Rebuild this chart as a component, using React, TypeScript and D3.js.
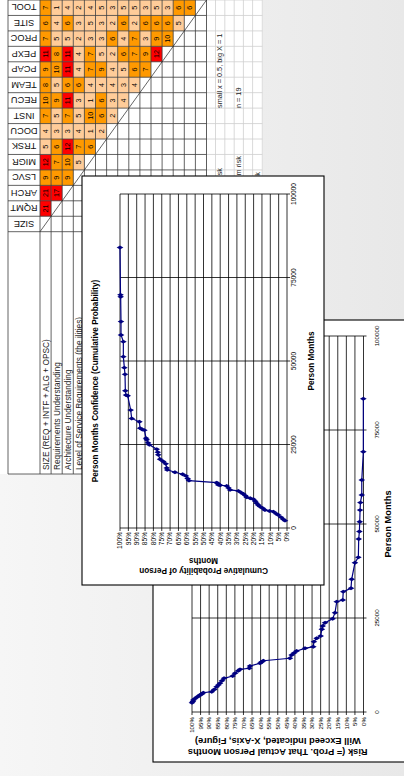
import React from "react";
import * as d3 from "d3";

const W = 404;
const H = 776;
const FONT = "'Liberation Sans', Arial, sans-serif";

// ---------- spreadsheet data ----------
const VARS = ["SIZE", "RQMT", "ARCH", "LSVC", "MIGR", "TRSK", "DOCU", "INST", "RECU", "TEAM", "PCAP", "PEXP", "PROC", "SITE", "TOOL"];
// values per column (column j holds rows 0..j-1)
const MATRIX: number[][] = [
  [],
  [21],
  [21, 17],
  [9, 9, 9],
  [12, 7, 10, 5],
  [5, 6, 12, 7, 6],
  [4, 3, 3, 4, 1, 2],
  [7, 5, 7, 5, 10, 6, 2],
  [10, 9, 11, 3, 1, 6, 3, 4],
  [8, 5, 6, 6, 4, 4, 4, 3, 4],
  [9, 10, 11, 4, 7, 9, 4, 5, 6, 7],
  [11, 8, 11, 4, 7, 5, 2, 6, 7, 9, 12],
  [7, 5, 5, 2, 3, 3, 6, 4, 7, 3, 9, 10],
  [6, 4, 6, 3, 5, 3, 2, 6, 2, 6, 6, 6, 5],
  [7, 1, 4, 2, 4, 5, 3, 5, 5, 3, 5, 3, 6, 6],
];
const ROW_LABELS = [
  "SIZE (REQ + INTF + ALG + OPSC)",
  "Requirements Understanding",
  "Architecture Understanding",
  "Level of Service Requirements (the ilities)",
];
const NOTES = ["small x = 0.5, big X = 1", "n = 19"];
const RISK_NOTES = ["Low risk", "Medium risk", "High risk"];

// ---------- chart data ----------
const PCT_TICKS = [0, 5, 10, 15, 20, 25, 30, 35, 40, 45, 50, 55, 60, 65, 70, 75, 80, 85, 90, 95, 100];
const PM_TICKS = [0, 25000, 50000, 75000, 100000];

// Chart 1: cumulative probability (%) vs person months
const CDF_PM = [2200, 2600, 3200, 3900, 4300, 4900, 5100, 5400, 5900, 6400, 6900, 7400, 8000, 8600, 8900, 9200, 9700, 10200, 10600, 11100, 11400, 12000, 12600, 12800, 12900, 13300, 13600, 14200, 14800, 15600, 16100, 16700, 17400, 18000, 19200, 19900, 20600, 21900, 22700, 23600, 24900, 25500, 26400, 26900, 29300, 29500, 29900, 31800, 32800, 35300, 39600, 39800, 41100, 46000, 48000, 51300, 55800, 57800, 61800, 69200, 69800, 84000];
const CDF_PCT = [1.2, 2.2, 3.5, 5.2, 6.5, 8.2, 10.5, 13.2, 14.5, 16.2, 17.2, 18.2, 19.0, 20.1, 22.0, 24.1, 25.0, 26.1, 27.5, 29.1, 34.1, 35.0, 36.1, 40.0, 41.1, 41.6, 42.1, 58.7, 59.5, 60.5, 62.5, 67.1, 71.7, 72.0, 72.6, 74.1, 76.0, 77.1, 77.4, 78.0, 82.4, 83.2, 84.0, 84.4, 85.4, 86.6, 88.0, 88.4, 93.0, 93.6, 95.4, 96.4, 96.8, 97.0, 97.4, 98.0, 98.0, 99.4, 99.4, 99.6, 99.7, 100];

// Chart 2: risk (%) that actual person months exceed x
const RISK_PM = [2470, 2800, 3190, 3550, 3900, 4200, 4520, 4800, 5130, 5400, 6000, 6730, 7200, 7630, 8300, 8960, 9570, 10290, 10980, 11350, 11620, 12230, 12950, 13300, 13640, 14280, 15160, 15700, 16220, 16940, 17370, 18700, 19600, 20210, 22000, 22870, 23750, 24810, 26410, 29340, 29790, 32000, 32900, 35290, 39710, 41140, 46010, 48000, 50600, 53700, 55700, 57700, 61700, 69200, 83300];
const RISK_PCT = [100, 99.5, 99.2, 98.3, 97.3, 96.3, 95.3, 94.3, 93.4, 88.5, 87.0, 85.6, 84.6, 83.7, 82.5, 81.3, 76.3, 74.9, 73.0, 72.0, 66.6, 66.2, 60.3, 59.5, 58.4, 42.9, 41.9, 40.5, 39.0, 34.1, 29.3, 28.9, 27.3, 25.0, 24.3, 23.8, 22.4, 18.0, 16.6, 15.6, 12.1, 11.8, 7.3, 6.9, 5.0, 3.0, 2.8, 2.4, 2.2, 2.0, 1.8, 1.0, 1.0, 0.1, 0.1];

// ---------- helpers ----------
function cellFill(v: number) {
  if (v >= 11) return "#ff0000";
  if (v >= 6) return "#ff9900";
  return "#ffcc99";
}

// All drawing below is in the "sheet frame" (776 wide x 404 tall),
// which is shown rotated 90deg counter-clockwise.

function Sheet() {
  const col = d3.scaleBand<string>().domain(VARS).range([544.3, 776]);
  const row = d3.scaleBand<string>().domain(VARS).range([40, 206.5]);
  const cw = col.bandwidth();
  const rh = row.bandwidth();
  const lightRows = [206.5, 215.5, 224.8, 234.2, 243.4, 252.6, 262.3];
  const dark = "#3c3c3c";
  const light = "#cfcfcf";
  return (
    <g>
      <rect x={302} y={0} width={474} height={263} fill="#fff" />
      {MATRIX.map((vals, j) =>
        vals.map((val, i) => (
          <g key={`c${j}-${i}`}>
            <rect x={col(VARS[j])!} y={row(VARS[i])!} width={cw} height={rh} fill={cellFill(val)} />
            <text x={col(VARS[j])! + cw / 2} y={row(VARS[i])! + rh / 2} dy="0.36em" textAnchor="middle" fontSize={7.2} fontFamily={FONT} fill="#000">
              {val}
            </text>
          </g>
        ))
      )}
      {lightRows.map((v, k) => (
        <line key={`lr${k}`} x1={302} x2={776} y1={v} y2={v} stroke={light} strokeWidth={0.8} />
      ))}
      {VARS.map((_, j) => (
        <line key={`lc${j}`} x1={544.3 + j * cw} x2={544.3 + j * cw} y1={206.5} y2={262.3} stroke={light} strokeWidth={0.8} />
      ))}
      <line x1={776} x2={776} y1={206.5} y2={262.3} stroke={light} strokeWidth={0.8} />
      <line x1={302} x2={776} y1={8} y2={8} stroke={dark} strokeWidth={0.8} />
      {d3.range(VARS.length + 1).map((i) => (
        <line key={`rr${i}`} x1={302} x2={776} y1={40 + i * rh} y2={40 + i * rh} stroke={dark} strokeWidth={0.8} />
      ))}
      {d3.range(VARS.length + 1).map((j) => (
        <line key={`cc${j}`} x1={544.3 + j * cw} x2={544.3 + j * cw} y1={8} y2={206.5} stroke={dark} strokeWidth={0.8} />
      ))}
      <line x1={302} x2={302} y1={8} y2={262.3} stroke={dark} strokeWidth={0.8} />
      <line x1={col(VARS[0])!} y1={row(VARS[0])!} x2={col(VARS[14])! + cw} y2={row(VARS[14])! + rh} stroke="#222" strokeWidth={0.7} />
      {VARS.map((name) => (
        <text
          key={`h${name}`}
          transform={`translate(${col(name)! + cw / 2},24) rotate(-90)`}
          dy="0.36em"
          textAnchor="middle"
          fontSize={9.2}
          fontFamily={FONT}
          fill="#111"
        >
          {name}
        </text>
      ))}
      {ROW_LABELS.map((t, i) => (
        <text key={`rl${i}`} x={306} y={row(VARS[i])! + rh / 2} dy="0.36em" fontSize={8.3} fontFamily={FONT} fill="#222">
          {t}
        </text>
      ))}
      <text x={668} y={219.6} dy="0.36em" fontSize={7.3} fontFamily={FONT} fill="#222">{NOTES[0]}</text>
      <text x={668} y={238.7} dy="0.36em" fontSize={7.3} fontFamily={FONT} fill="#222">{NOTES[1]}</text>
      <text x={608} y={219.6} dy="0.36em" textAnchor="end" fontSize={7.3} fontFamily={FONT} fill="#222">{RISK_NOTES[0]}</text>
      <text x={620} y={238.7} dy="0.36em" textAnchor="end" fontSize={7.3} fontFamily={FONT} fill="#222">{RISK_NOTES[1]}</text>
      <text x={604} y={257} dy="0.36em" textAnchor="end" fontSize={7.3} fontFamily={FONT} fill="#222">{RISK_NOTES[2]}</text>
    </g>
  );
}

type ChartProps = {
  box: [number, number, number, number];
  uRange: [number, number];
  vRange: [number, number];
  pm: number[];
  pct: number[];
  tickFont: number;
  titleFont: number;
  pmLabelV: number;
  pctLabelEnd: number;
  xTitle: string;
  xTitleV: number;
  yTitle: string[];
  yTitleU: number[];
  title?: string;
  titleV?: number;
  titleU?: number;
};

function Chart(p: ChartProps) {
  const x = d3.scaleLinear().domain([0, 100000]).range(p.uRange);
  const y = d3.scaleLinear().domain([0, 100]).range(p.vRange);
  const line = d3
    .line<number>()
    .x((_, i) => x(p.pm[i]))
    .y((_, i) => y(p.pct[i]));
  const marker = d3.symbol(d3.symbolDiamond, 13)()!;
  const [bx, by, bw, bh] = p.box;
  const vMid = (y(0) + y(100)) / 2;
  const uMid = (x(0) + x(100000)) / 2;
  return (
    <g>
      <rect x={bx} y={by} width={bw} height={bh} fill="#fff" stroke="#000" strokeWidth={1.1} />
      {PCT_TICKS.map((t) => (
        <line key={`g${t}`} x1={x(0) - 3} x2={x(100000)} y1={y(t)} y2={y(t)} stroke="#000" strokeWidth={0.8} />
      ))}
      {PM_TICKS.map((t) => (
        <line key={`v${t}`} x1={x(t)} x2={x(t)} y1={y(100)} y2={y(0) + 3} stroke="#000" strokeWidth={0.8} />
      ))}
      {PCT_TICKS.map((t) => (
        <text key={`pl${t}`} x={p.pctLabelEnd} y={y(t)} dy="0.36em" textAnchor="end" fontSize={p.tickFont} fontFamily={FONT} fill="#000">
          {`${t}%`}
        </text>
      ))}
      {PM_TICKS.map((t) => (
        <text key={`ml${t}`} x={x(t)} y={p.pmLabelV} dy="0.36em" textAnchor="middle" fontSize={p.tickFont} fontFamily={FONT} fill="#000">
          {String(t)}
        </text>
      ))}
      <path d={line(p.pm)!} fill="none" stroke="#000080" strokeWidth={1.2} />
      {p.pm.map((v, i) => (
        <path key={`m${i}`} d={marker} transform={`translate(${x(v)},${y(p.pct[i])})`} fill="#000080" />
      ))}
      <text x={uMid} y={p.xTitleV} dy="0.36em" textAnchor="middle" fontSize={p.titleFont} fontWeight="bold" fontFamily={FONT} fill="#000">
        {p.xTitle}
      </text>
      {p.yTitle.map((t, i) => (
        <text
          key={`yt${i}`}
          transform={`translate(${p.yTitleU[i]},${vMid}) rotate(-90)`}
          dy="0.36em"
          textAnchor="middle"
          fontSize={p.titleFont}
          fontWeight="bold"
          fontFamily={FONT}
          fill="#000"
        >
          {t}
        </text>
      ))}
      {p.title && (
        <text x={p.titleU} y={p.titleV} dy="0.36em" textAnchor="middle" fontSize={p.titleFont} fontWeight="bold" fontFamily={FONT} fill="#000">
          {p.title}
        </text>
      )}
    </g>
  );
}

export default function App() {
  return (
    <svg width={W} height={H} viewBox={`0 0 ${W} ${H}`} style={{ position: "absolute", left: 0, top: 0, display: "block" }}>
      <defs>
        <linearGradient id="bg" x1="0" y1="0" x2="0" y2="1">
          <stop offset="0" stopColor="#f6f6f6" />
          <stop offset="1" stopColor="#e8e8e8" />
        </linearGradient>
      </defs>
      <g transform={`translate(0,${H}) rotate(-90)`}>
        <rect x={0} y={0} width={H} height={W} fill="url(#bg)" />
        <Sheet />
        <Chart
          box={[14, 153, 442, 270]}
          uRange={[64, 440]}
          vRange={[363.5, 192]}
          pm={RISK_PM}
          pct={RISK_PCT}
          tickFont={6.2}
          titleFont={9.3}
          pmLabelV={376.5}
          pctLabelEnd={59}
          xTitle="Person Months"
          xTitleV={388}
          yTitle={["Risk (= Prob. That Actual Person Months", "Will Exceed Indicated, X-Axis, Figure)"]}
          yTitleU={[24, 35]}
        />
        <Chart
          box={[191, 82, 409, 242]}
          uRange={[248, 582]}
          vRange={[287, 120]}
          pm={CDF_PM}
          pct={CDF_PCT}
          tickFont={6.6}
          titleFont={8.2}
          pmLabelV={293.5}
          pctLabelEnd={244}
          xTitle="Person Months"
          xTitleV={311}
          yTitle={["Cumulative Probability of Person", "Months"]}
          yTitleU={[205, 215]}
          title="Person Months Confidence (Cumulative Probability)"
          titleU={395}
          titleV={95}
        />
      </g>
    </svg>
  );
}
